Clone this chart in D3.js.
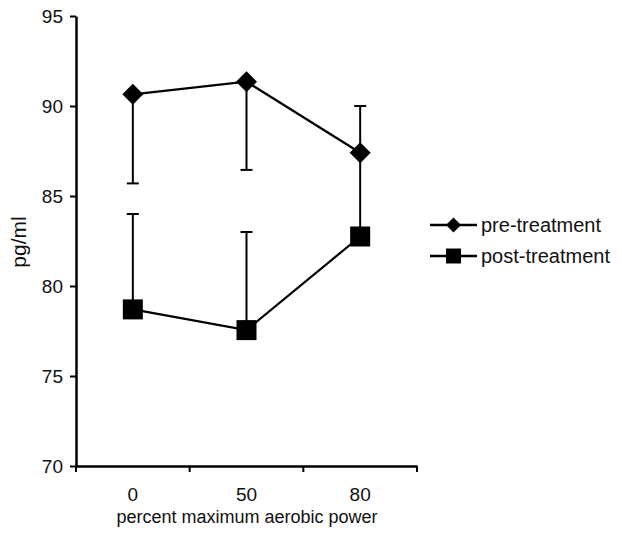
<!DOCTYPE html>
<html>
<head>
<meta charset="utf-8">
<script src="https://cdn.jsdelivr.net/npm/d3@7"></script>
<style>
  body { margin: 0; background: #fff; }
  text { font-family: "Liberation Sans", Arial, sans-serif; fill: #111; }
</style>
</head>
<body>
<script>
var width = 622, height = 533;

// data
var categories = ["0", "50", "80"];
var preValues = [90.65, 91.35, 87.4];
var preErrLow = [85.7, 86.45, 87.4];
var preErrHigh = [90.65, 91.35, 90.0];
var postValues = [78.7, 77.55, 82.75];
var postErrLow = [78.7, 77.55, 82.75];
var postErrHigh = [84.0, 83.0, 87.4];
var yTicks = [70, 75, 80, 85, 90, 95];

var x = d3.scaleBand().domain(categories).range([76, 417]);
var y = d3.scaleLinear().domain([70, 95]).range([466, 16]);

var svg = d3.select("body").append("svg")
    .attr("width", width)
    .attr("height", height);

// axes
var yAxis = svg.append("g")
    .attr("transform", "translate(76,0)")
    .call(d3.axisLeft(y).tickValues(yTicks).tickSize(6).tickSizeOuter(0).tickPadding(7));
var xAxis = svg.append("g")
    .attr("transform", "translate(0,466)")
    .call(d3.axisBottom(x).tickSize(0).tickPadding(22));

[yAxis, xAxis].forEach(function(g) {
  g.select(".domain").attr("stroke", "#000").attr("stroke-width", 2.5);
  g.selectAll(".tick line").attr("stroke", "#000").attr("stroke-width", 2);
  g.selectAll(".tick text").style("font-size", "19px").attr("fill", "#111")
    .style("font-family", "Liberation Sans, Arial, sans-serif");
});

// x ticks between bands
var bounds = [x.range()[0]].concat(categories.map(function(c) { return x(c) + x.bandwidth(); }));
xAxis.selectAll(".btick").data(bounds).enter().append("line")
    .attr("x1", function(d) { return d; }).attr("x2", function(d) { return d; })
    .attr("y1", 0).attr("y2", 6)
    .attr("stroke", "#000").attr("stroke-width", 2);

function cx(i) { return x(categories[i]) + x.bandwidth() / 2; }

function drawSeries(vals, lo, hi, shape) {
  var idx = d3.range(vals.length);
  var g = svg.append("g");
  // error bars
  idx.forEach(function(i) {
    g.append("line")
      .attr("x1", cx(i)).attr("x2", cx(i))
      .attr("y1", y(lo[i])).attr("y2", y(hi[i]))
      .attr("stroke", "#000").attr("stroke-width", 2);
    [lo[i], hi[i]].forEach(function(v) {
      if (v !== vals[i]) {
        g.append("line")
          .attr("x1", cx(i) - 6).attr("x2", cx(i) + 6)
          .attr("y1", y(v)).attr("y2", y(v))
          .attr("stroke", "#000").attr("stroke-width", 2);
      }
    });
  });
  g.append("path")
    .datum(idx)
    .attr("fill", "none").attr("stroke", "#000").attr("stroke-width", 2.2)
    .attr("d", d3.line().x(function(i) { return cx(i); }).y(function(i) { return y(vals[i]); }));
  g.selectAll(".m").data(idx).enter().append("path")
    .attr("transform", function(i) { return "translate(" + cx(i) + "," + y(vals[i]) + ")"; })
    .attr("d", shape)
    .attr("fill", "#000");
}

var diamond = "M0,-10.5L10.5,0L0,10.5L-10.5,0Z";
var square = "M-10,-10H10V10H-10Z";

drawSeries(postValues, postErrLow, postErrHigh, square);
drawSeries(preValues, preErrLow, preErrHigh, diamond);

// legend
var legend = [
  { name: "pre-treatment", shape: "M0,-7.5L7.5,0L0,7.5L-7.5,0Z", y: 225 },
  { name: "post-treatment", shape: "M-7.5,-7.5H7.5V7.5H-7.5Z", y: 256 }
];
var lg = svg.append("g").selectAll("g").data(legend).enter().append("g")
    .attr("transform", function(d) { return "translate(430," + d.y + ")"; });
lg.append("line").attr("x1", 0).attr("x2", 47).attr("stroke", "#000").attr("stroke-width", 2.5);
lg.append("path").attr("transform", "translate(23.5,0)").attr("d", function(d) { return d.shape; }).attr("fill", "#000");
lg.append("text").attr("x", 51).attr("dy", "0.35em").style("font-size", "20px").text(function(d) { return d.name; });

// axis titles
svg.append("text")
    .attr("transform", "translate(26,242) rotate(-90)")
    .attr("text-anchor", "middle")
    .style("font-size", "21px")
    .text("pg/ml");
svg.append("text")
    .attr("x", 247).attr("y", 523)
    .attr("text-anchor", "middle")
    .style("font-size", "18px")
    .text("percent maximum aerobic power");
</script>
</body>
</html>
